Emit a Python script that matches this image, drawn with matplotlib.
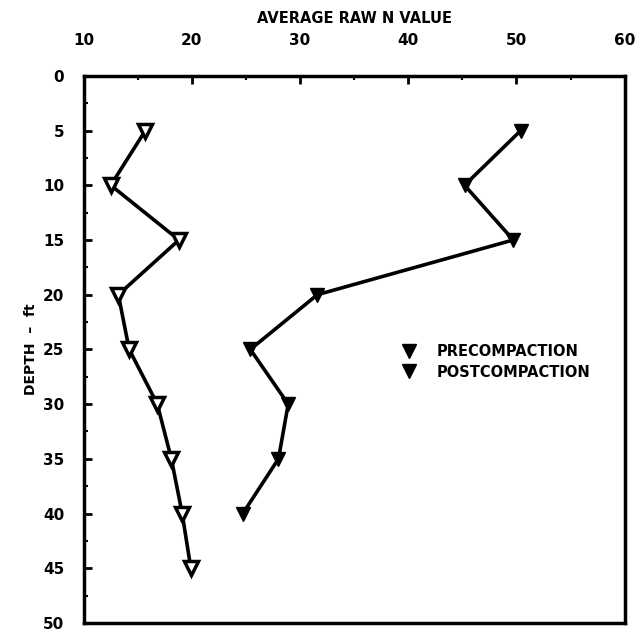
import matplotlib.pyplot as plt
from matplotlib.lines import Line2D
from matplotlib.ticker import MultipleLocator

plt.rcParams['font.family'] = ['Liberation Sans Narrow', 'DejaVu Sans']
plt.rcParams['font.weight'] = 'bold'

# Profundidades y valores N
depth_pre = [5, 10, 15, 20, 25, 30, 35, 40, 45]
n_pre = [15.7, 12.5, 18.8, 13.2, 14.2, 16.8, 18.1, 19.1, 19.9]
depth_post = [5, 10, 15, 20, 25, 30, 35, 40]
n_post = [50.4, 45.2, 49.7, 31.6, 25.4, 28.9, 28.0, 24.7]

x_ticks = [10, 20, 30, 40, 50, 60]
y_ticks = [0, 5, 10, 15, 20, 25, 30, 35, 40, 45, 50]

fig = plt.figure(figsize=(6.44, 6.37), dpi=100)
ax = fig.add_axes([0.130, 0.022, 0.840, 0.859])

ax.plot(n_pre, depth_pre, color='black', lw=2.6, marker='v', ms=10,
        mfc='white', mec='black', mew=2.5)
ax.plot(n_post, depth_post, color='black', lw=2.6, marker='v', ms=10,
        mfc='black', mec='black')

ax.set_xlim(10, 60)
ax.set_ylim(50, 0)
ax.xaxis.tick_top()
ax.xaxis.set_label_position('top')
ax.set_xticks(x_ticks)
ax.set_yticks(y_ticks)
ax.xaxis.set_minor_locator(MultipleLocator(5))
ax.yaxis.set_minor_locator(MultipleLocator(2.5))
ax.tick_params(which='major', direction='in', length=6, width=2, labelsize=11)
ax.tick_params(axis='x', which='major', pad=20)
ax.tick_params(axis='y', which='major', pad=14)
ax.tick_params(which='minor', direction='in', length=3, width=1.5)
for s in ax.spines.values():
    s.set_linewidth(2.5)

ax.set_xlabel('AVERAGE RAW N VALUE', fontsize=10.5, fontweight='bold', labelpad=7)
ax.set_ylabel('DEPTH  –  ft', fontsize=10, fontweight='bold')
ax.yaxis.set_label_coords(-0.085, 0.5)

handles = [
    Line2D([], [], ls='none', marker='v', ms=10, mfc='black', mec='black'),
    Line2D([], [], ls='none', marker='v', ms=10, mfc='black', mec='black'),
]
ax.legend(handles, ['PRECOMPACTION', 'POSTCOMPACTION'], frameon=False,
          loc='center left', bbox_to_anchor=(0.55, 0.477), fontsize=10.5,
          handletextpad=0.9, labelspacing=0.35)

fig.savefig('out.png', dpi=100)
